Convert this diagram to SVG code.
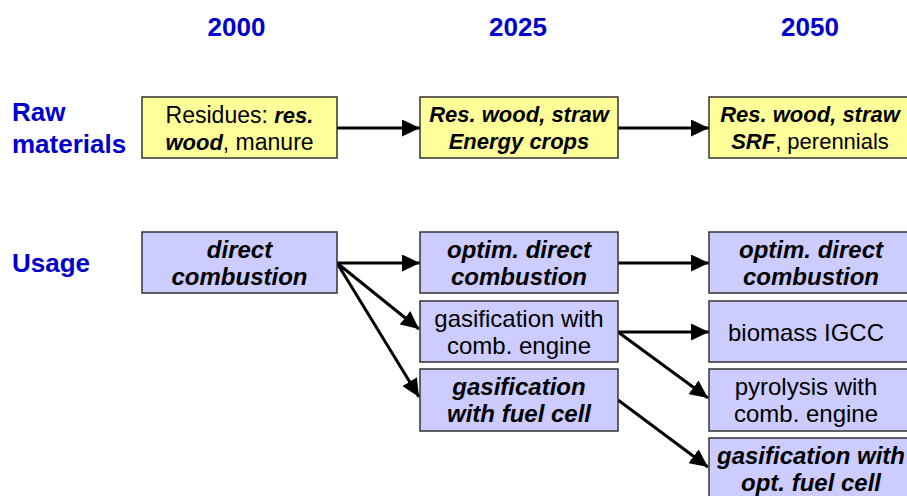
<svg xmlns="http://www.w3.org/2000/svg" width="907" height="496" viewBox="0 0 907 496">
<style>
.hd{font-family:"Liberation Sans",Arial,sans-serif;font-weight:bold;font-size:26px;fill:#0000CC}
.raw{fill:#FFFF99;stroke:#333;stroke-width:1.5}
.use{fill:#CCCCFF;stroke:#333;stroke-width:1.5}
.t{font-family:"Liberation Sans",Arial,sans-serif;font-size:24px;fill:#000;text-anchor:middle}
.s{font-size:22px}
.m{font-size:23px}
.bi{font-weight:bold;font-style:italic}
.c{stroke:#000;stroke-width:3;fill:none;marker-end:url(#ah)}
</style>
<defs>
<marker id="ah" markerUnits="userSpaceOnUse" markerWidth="19" markerHeight="17" refX="18" refY="8.5" orient="auto">
<path d="M0,0 L18,8.5 L0,17 z" fill="#000"/>
</marker>
</defs>
<rect width="907" height="496" fill="#fff"/>
<g id="headers">
<text class="hd" x="236.5" y="36" text-anchor="middle">2000</text>
<text class="hd" x="518" y="36" text-anchor="middle">2025</text>
<text class="hd" x="810" y="36" text-anchor="middle">2050</text>
<text class="hd" x="12" y="121">Raw</text>
<text class="hd" x="12" y="153">materials</text>
<text class="hd" x="12" y="272">Usage</text>
</g>
<g id="connectors">
<line class="c" x1="337" y1="128" x2="420" y2="128"/>
<line class="c" x1="618" y1="128" x2="709" y2="128"/>
<line class="c" x1="337" y1="263" x2="420" y2="263"/>
<line class="c" x1="337" y1="263" x2="419" y2="329"/>
<line class="c" x1="337" y1="263" x2="419" y2="397"/>
<line class="c" x1="618" y1="263" x2="709" y2="263"/>
<line class="c" x1="618" y1="332" x2="709" y2="332"/>
<line class="c" x1="618" y1="332" x2="708" y2="398"/>
<line class="c" x1="618" y1="400" x2="708" y2="467"/>
</g>
<g id="raw2000">
<rect class="raw" x="142" y="97" width="195" height="61"/>
<text class="t m" x="239.5" y="123">Residues: <tspan class="bi s">res.</tspan></text>
<text class="t m" x="239.5" y="150"><tspan class="bi s">wood</tspan>, manure</text>
</g>
<g id="raw2025">
<rect class="raw" x="420" y="97" width="198" height="61"/>
<text class="t s bi" x="519" y="122">Res. wood, straw</text>
<text class="t s bi" x="519" y="149">Energy crops</text>
</g>
<g id="raw2050">
<rect class="raw" x="709" y="97" width="200" height="61"/>
<text class="t s" x="810" y="122"><tspan class="bi">Res. wood, straw</tspan></text>
<text class="t s" x="810" y="149"><tspan class="bi">SRF</tspan>, perennials</text>
</g>
<g id="use2000">
<rect class="use" x="142" y="232" width="195" height="61"/>
<text class="t bi" x="239.5" y="258">direct</text>
<text class="t bi" x="239.5" y="285">combustion</text>
</g>
<g id="use2025a">
<rect class="use" x="420" y="232" width="198" height="61"/>
<text class="t bi" x="519" y="258">optim. direct</text>
<text class="t bi" x="519" y="285">combustion</text>
</g>
<g id="use2025b">
<rect class="use" x="420" y="301" width="198" height="61"/>
<text class="t" x="519" y="327">gasification with</text>
<text class="t" x="519" y="354">comb. engine</text>
</g>
<g id="use2025c">
<rect class="use" x="420" y="369" width="198" height="62"/>
<text class="t bi" x="519" y="395">gasification</text>
<text class="t bi" x="519" y="422">with fuel cell</text>
</g>
<g id="use2050a">
<rect class="use" x="709" y="232" width="200" height="61"/>
<text class="t bi" x="811" y="258">optim. direct</text>
<text class="t bi" x="811" y="285">combustion</text>
</g>
<g id="use2050b">
<rect class="use" x="709" y="301" width="200" height="61"/>
<text class="t" x="806" y="341">biomass IGCC</text>
</g>
<g id="use2050c">
<rect class="use" x="709" y="369" width="200" height="62"/>
<text class="t" x="806" y="395">pyrolysis with</text>
<text class="t" x="806" y="422">comb. engine</text>
</g>
<g id="use2050d">
<rect class="use" x="709" y="438" width="200" height="62"/>
<text class="t bi" x="811" y="464">gasification with</text>
<text class="t bi" x="811" y="491">opt. fuel cell</text>
</g>
</svg>
